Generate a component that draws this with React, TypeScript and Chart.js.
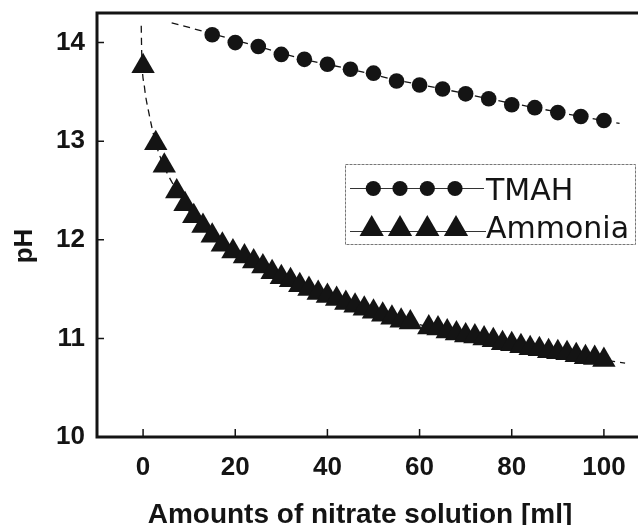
import React, { useEffect, useRef } from 'react';
import { Chart, registerables } from 'chart.js';

Chart.register(...registerables);

// ---- data ----
const tmahVolume = [15, 20, 25, 30, 35, 40, 45, 50, 55, 60, 65, 70, 75, 80, 85, 90, 95, 100];
const tmahPH = [14.08, 14.0, 13.96, 13.88, 13.83, 13.78, 13.73, 13.69, 13.61, 13.57, 13.53, 13.48, 13.43, 13.37, 13.34, 13.29, 13.25, 13.21];

const ammoniaVolume = [
  0, 2.75, 4.6, 7.3, 9.1, 11, 13, 15, 17.2, 19.5, 22, 24, 26, 28, 30, 32, 34, 36, 38, 40, 42, 44, 46, 48, 50, 52, 54, 56, 58,
  62, 64, 66, 68, 70, 72, 74, 76, 78, 80, 82, 84, 86, 88, 90, 92, 94, 96, 98, 100,
];
const ammoniaPH = [
  13.76, 12.98, 12.75, 12.49, 12.36, 12.24, 12.14, 12.04, 11.95, 11.88, 11.83, 11.78, 11.73, 11.67, 11.62, 11.59, 11.54, 11.5,
  11.46, 11.43, 11.4, 11.36, 11.33, 11.3, 11.27, 11.24, 11.21, 11.18, 11.16,
  11.11, 11.1, 11.07, 11.05, 11.03, 11.02, 11.0, 10.98, 10.95, 10.94, 10.92, 10.9, 10.89, 10.87, 10.86, 10.85, 10.83, 10.81, 10.8, 10.78,
];

const tmahFitVolume = [6.2, 15, 25, 35, 45, 55, 65, 75, 85, 95, 103.4];
const tmahFitPH = [14.2, 14.09, 13.96, 13.83, 13.73, 13.62, 13.53, 13.43, 13.34, 13.25, 13.18];

const ammoniaFitVolume = [-0.4, -0.3, 0.3, 1.2, 2.75, 4.6, 7.3, 11, 15, 20, 30, 40, 50, 60, 70, 80, 90, 100, 104.6];
const ammoniaFitPH = [14.17, 13.9, 13.55, 13.3, 12.98, 12.74, 12.5, 12.22, 12.03, 11.87, 11.62, 11.43, 11.27, 11.14, 11.03, 10.94, 10.86, 10.78, 10.75];

const xTicks = [0, 20, 40, 60, 80, 100];
const yTicks = [10, 11, 12, 13, 14];

const xTitle = 'Amounts of nitrate solution [ml]';
const yTitle = 'pH';
const legendLabels = ['TMAH', 'Ammonia'];

const INK = '#141414';

const toXY = (xs: number[], ys: number[]) => xs.map((v, i) => ({ x: v, y: ys[i] }));

function drawTriangle(ctx: CanvasRenderingContext2D, x: number, y: number, r: number) {
  ctx.beginPath();
  ctx.moveTo(x, y - r);
  ctx.lineTo(x + r * Math.sin((2 * Math.PI) / 3), y - r * Math.cos((2 * Math.PI) / 3));
  ctx.lineTo(x + r * Math.sin((4 * Math.PI) / 3), y - r * Math.cos((4 * Math.PI) / 3));
  ctx.closePath();
  ctx.fill();
}

const framePlugin = {
  id: 'frameAndDecor',
  afterDraw(chart: any) {
    const { ctx, chartArea } = chart;
    const { left, top, right, bottom } = chartArea;
    const xs = chart.scales.x;
    const ys = chart.scales.y;
    ctx.save();
    // frame: top, left, bottom
    ctx.strokeStyle = INK;
    ctx.lineWidth = 3;
    ctx.beginPath();
    ctx.moveTo(right + 2, top);
    ctx.lineTo(left, top);
    ctx.lineTo(left, bottom);
    ctx.lineTo(right + 2, bottom);
    ctx.stroke();
    // inward ticks
    ctx.lineWidth = 1.5;
    ctx.beginPath();
    ys.ticks.forEach((t: any) => {
      const py = ys.getPixelForValue(t.value);
      ctx.moveTo(left, py);
      ctx.lineTo(left + 7, py);
    });
    xs.ticks.forEach((t: any) => {
      const px = xs.getPixelForValue(t.value);
      ctx.moveTo(px, bottom);
      ctx.lineTo(px, bottom - 8);
    });
    ctx.stroke();

    // axis titles
    ctx.fillStyle = INK;
    ctx.font = 'bold 28px "Liberation Sans", Arial, sans-serif';
    ctx.textAlign = 'center';
    ctx.textBaseline = 'alphabetic';
    ctx.fillText(xTitle, 360, 523);
    ctx.save();
    ctx.translate(32, 246);
    ctx.rotate(-Math.PI / 2);
    ctx.font = 'bold 26px "Liberation Sans", Arial, sans-serif';
    ctx.fillText(yTitle, 0, 0);
    ctx.restore();

    // legend
    ctx.strokeStyle = '#777';
    ctx.lineWidth = 1;
    ctx.setLineDash([3, 1]);
    ctx.strokeRect(345.5, 164.5, 290, 80);
    ctx.setLineDash([]);
    ctx.strokeStyle = '#333';
    ctx.beginPath();
    ctx.moveTo(350, 188.5);
    ctx.lineTo(484, 188.5);
    ctx.moveTo(350, 231.5);
    ctx.lineTo(486, 231.5);
    ctx.stroke();
    ctx.fillStyle = INK;
    [373.3, 400, 427.3, 455].forEach((cx) => {
      ctx.beginPath();
      ctx.arc(cx, 188.5, 7.6, 0, Math.PI * 2);
      ctx.fill();
    });
    [371.7, 400, 427.3, 456].forEach((cx) => drawTriangle(ctx, cx, 229, 14));
    ctx.font = '30px "DejaVu Sans", sans-serif';
    ctx.textAlign = 'left';
    ctx.fillText(legendLabels[0], 486, 200);
    ctx.fillText(legendLabels[1], 486, 238);
    ctx.restore();
  },
};

export default function App() {
  const canvasRef = useRef<HTMLCanvasElement | null>(null);

  useEffect(() => {
    const canvas = canvasRef.current;
    if (!canvas) return;
    const tickFont = { family: '"Liberation Sans", Arial, sans-serif', size: 26, weight: 'bold' as const };
    const chart = new Chart(canvas, {
      type: 'line',
      data: {
        datasets: [
          {
            label: legendLabels[0],
            data: toXY(tmahVolume, tmahPH),
            showLine: false,
            pointStyle: 'circle',
            pointRadius: 7.8,
            pointBackgroundColor: INK,
            pointBorderColor: INK,
            pointBorderWidth: 0,
            order: 1,
          },
          {
            label: legendLabels[1],
            data: toXY(ammoniaVolume, ammoniaPH),
            showLine: false,
            pointStyle: 'triangle',
            pointRadius: 13.5,
            pointBackgroundColor: INK,
            pointBorderColor: INK,
            pointBorderWidth: 0,
            order: 2,
          },
          {
            label: 'TMAH fit',
            data: toXY(tmahFitVolume, tmahFitPH),
            borderColor: INK,
            borderWidth: 1.3,
            borderDash: [7, 5],
            pointRadius: 0,
            cubicInterpolationMode: 'monotone',
            order: 3,
          },
          {
            label: 'Ammonia fit',
            data: toXY(ammoniaFitVolume, ammoniaFitPH),
            borderColor: INK,
            borderWidth: 1.3,
            borderDash: [7, 5],
            pointRadius: 0,
            cubicInterpolationMode: 'monotone',
            order: 4,
          },
        ],
      },
      options: {
        animation: false,
        responsive: false,
        maintainAspectRatio: false,
        layout: { autoPadding: false, padding: { top: 13, right: 0, bottom: 0, left: 0 } },
        plugins: { legend: { display: false }, tooltip: { enabled: false } },
        scales: {
          x: {
            type: 'linear',
            min: -10,
            max: 107.4,
            grid: { display: false, drawTicks: false },
            border: { display: false },
            afterBuildTicks: (s: any) => {
              s.ticks = xTicks.map((v) => ({ value: v }));
            },
            afterFit: (s: any) => {
              s.height = 88;
              s.paddingLeft = 0;
              s.paddingRight = 0;
            },
            ticks: { font: tickFont, color: INK, padding: 15, maxRotation: 0, autoSkip: false },
          },
          y: {
            type: 'linear',
            min: 10,
            max: 14.3,
            grid: { display: false, drawTicks: false },
            border: { display: false },
            afterBuildTicks: (s: any) => {
              s.ticks = yTicks.map((v) => ({ value: v }));
            },
            afterFit: (s: any) => {
              s.width = 97;
              s.paddingTop = 0;
              s.paddingBottom = 0;
            },
            ticks: { font: tickFont, color: INK, padding: 12, autoSkip: false },
          },
        },
      },
      plugins: [framePlugin],
    });
    return () => chart.destroy();
  }, []);

  return (
    <div style={{ position: 'absolute', left: 0, top: 0, width: 638, height: 525, background: '#fff' }}>
      <canvas ref={canvasRef} width={638} height={525} style={{ display: 'block' }} />
    </div>
  );
}
